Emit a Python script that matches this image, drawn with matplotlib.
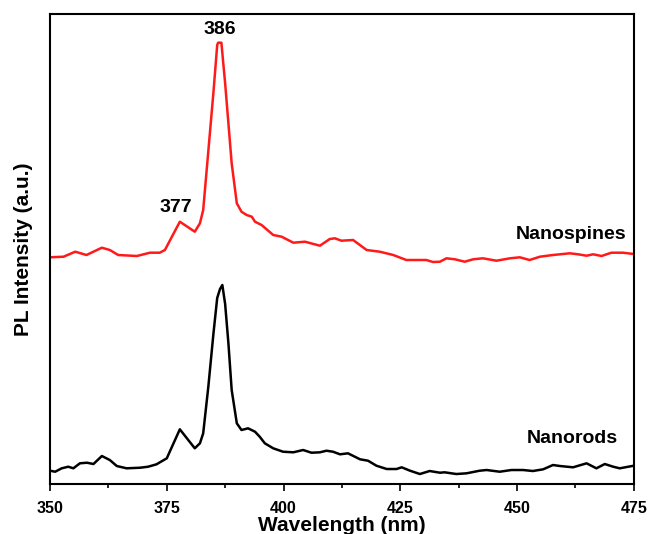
import matplotlib.pyplot as plt
from matplotlib.ticker import MultipleLocator

plt.rcParams['font.family'] = ['Liberation Sans', 'DejaVu Sans']

# Nanospines (red), wavelength in nm and PL intensity in a.u.
spines_wl = [350, 352.9, 355.4, 357.8, 361.1, 362.8, 364.6, 368.6, 371.4, 373.5,
             374.6, 377.8, 381.0, 382.1, 382.8, 383.9, 385.0, 385.8, 386.0, 386.7,
             387.1, 387.5, 388.2, 388.9, 390.0, 391.0, 392.1, 393.2, 393.9, 395.3,
             397.8, 399.6, 402.1, 404.6, 407.8, 409.9, 411.0, 412.4, 414.9, 417.8,
             420.6, 423.5, 426.3, 430.6, 432.0, 433.5, 434.9, 436.7, 438.8, 440.6,
             442.7, 445.6, 448.5, 450.6, 452.7, 454.9, 457.7, 461.3, 463.1, 464.9,
             466.3, 468.1, 470.2, 472.7, 475]
spines_int = [226.7, 227.3, 232.3, 229, 236.3, 234, 229, 228, 231.3, 231.3,
              234, 262.3, 252.3, 260.7, 274, 333, 392, 439, 441.3, 441.3,
              420.7, 400.7, 360.7, 320.7, 280.7, 272.3, 269, 267.3, 262.3, 259,
              249, 247.3, 241.3, 242.3, 238.3, 245, 245.7, 243.3, 244, 234,
              232.3, 229, 224, 224, 222, 222.3, 225.7, 224.7, 222.3, 224.7,
              225.7, 223.3, 225.7, 226.7, 224, 227.3, 229, 230.7, 229.7, 228.3,
              229.7, 228, 231.3, 231.3, 230]

# Nanorods (black)
rods_wl = [350, 351.1, 352.5, 353.9, 355.0, 356.4, 357.9, 359.3, 361.1, 362.8,
           364.3, 366.4, 369.3, 371.0, 372.8, 375.0, 377.8, 381.0, 382.1, 382.8,
           383.9, 385.0, 385.8, 386.4, 386.9, 387.5, 388.2, 388.9, 390.0, 391.0,
           392.4, 393.9, 394.9, 396.0, 397.8, 399.9, 402.1, 404.2, 406.0, 407.8,
           409.2, 410.6, 412.1, 413.8, 416.4, 418.1, 419.9, 422.1, 424.2, 425.3,
           427.1, 429.2, 431.3, 433.5, 434.5, 437.0, 439.2, 442.0, 443.5, 446.3,
           448.8, 451.3, 453.4, 455.6, 457.7, 459.2, 462.0, 464.9, 467.0, 468.8,
           470.6, 472.0, 475]
rods_int = [13.3, 12.3, 15.7, 17.3, 15.7, 20.7, 21.3, 20, 28, 24,
            18, 15.7, 16.3, 17.3, 19.7, 25.7, 54.7, 35.7, 40.7, 50.7,
            97.3, 150.7, 186, 195, 199, 180, 140.7, 94, 60.7, 54,
            55.7, 52.3, 47.3, 40.7, 35.7, 32.3, 31.7, 34, 31.3, 31.7,
            33.3, 32.3, 29.7, 30.7, 24.7, 23.3, 18.3, 15, 15, 16.7,
            13.3, 10, 13, 11.3, 11.7, 10, 10.7, 13.3, 14, 12.3,
            14, 14, 13, 14.7, 19, 18, 16.7, 20.7, 15.7, 20,
            17.3, 15.7, 18.3]

fig = plt.figure(figsize=(6.48, 5.34), dpi=100)
ax = fig.add_axes([0.0772, 0.0936, 0.9008, 0.8802])

ax.plot(spines_wl, spines_int, color='#ff1a1a', lw=1.8)
ax.plot(rods_wl, rods_int, color='black', lw=1.8)

ax.set_xlim(350, 475)
ax.set_ylim(0, 470)
ax.xaxis.set_major_locator(MultipleLocator(25))
ax.xaxis.set_minor_locator(MultipleLocator(12.5))
ax.set_yticks([])
ax.tick_params(axis='x', which='major', length=5, width=1.2, labelsize=11.5, pad=7)
ax.tick_params(axis='x', which='minor', length=3, width=1.2)
for lab in ax.get_xticklabels():
    lab.set_fontweight('bold')
for s in ax.spines.values():
    s.set_linewidth(1.5)

ax.set_xlabel('Wavelength (nm)', fontsize=15, fontweight='bold', labelpad=0)
ax.set_ylabel('PL Intensity (a.u.)', fontsize=15, fontweight='bold', labelpad=12)

# peak labels
ax.text(386.3, 446, '386', ha='center', va='bottom', fontsize=14, fontweight='bold')
ax.text(376.9, 268, '377', ha='center', va='bottom', fontsize=14, fontweight='bold')
ax.text(473.5, 241, 'Nanospines', ha='right', va='bottom', fontsize=14, fontweight='bold')
ax.text(471.5, 37, 'Nanorods', ha='right', va='bottom', fontsize=14, fontweight='bold')

fig.savefig('out.png', dpi=100)
